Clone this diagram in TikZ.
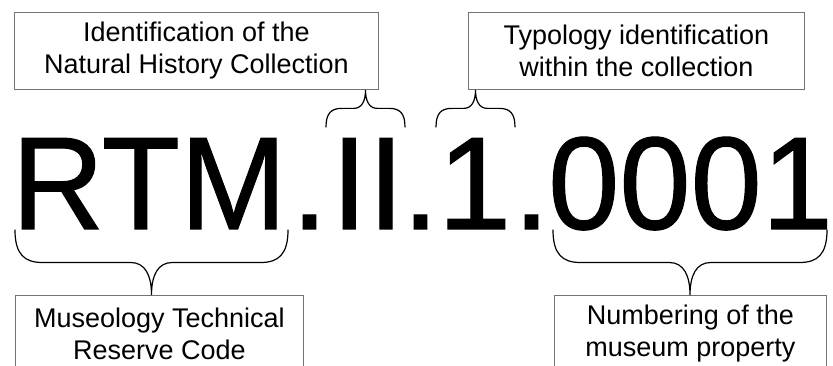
\documentclass[tikz,border=0pt]{standalone}
\usepackage{fontspec}
\setmainfont{Liberation Sans}
\newfontfamily\codefont[FakeBold=0.8]{Liberation Sans}
\usetikzlibrary{calc}

\tikzset{
  infobox/.style={draw=black!55, line width=0.8pt, align=center, inner sep=0pt,
    font=\fontsize{27}{32}\selectfont, anchor=north west, minimum height=77pt},
  codepart/.style={inner sep=0pt, anchor=base west, font=\codefont\fontsize{132}{132}\selectfont},
  brace line/.style={line width=1.2pt, line cap=round}
}

% curly brace between two ends, tip reaching the y of #3
\newcommand{\curlybrace}[3]{%
  \draw[brace line] let \p1=(#1), \p2=(#2), \p3=(#3),
      \n1={(\x1+\x2)/2}, \n2={(\y1+\y3)/2},
      \n3={0.42*abs(\y3-\y1)}, \n4={0.32*abs(\y3-\y1)} in
    (\p1) .. controls (\x1,{0.25*\y1+0.75*\n2*1pt}) and ({\x1+0.35*\n3*1pt},{\n2*1pt})
      .. ({\x1+\n3*1pt},{\n2*1pt})
    -- ({(\n1-\n4)*1pt},{\n2*1pt})
      .. controls ({(\n1-0.3*\n4)*1pt},{\n2*1pt}) and ({\n1*1pt},{0.6*\n2*1pt+0.4*\y3})
      .. ({\n1*1pt},\y3)
      .. controls ({\n1*1pt},{0.6*\n2*1pt+0.4*\y3}) and ({(\n1+0.3*\n4)*1pt},{\n2*1pt})
      .. ({(\n1+\n4)*1pt},{\n2*1pt})
    -- ({\x2-\n3*1pt},{\n2*1pt})
      .. controls ({\x2-0.35*\n3*1pt},{\n2*1pt}) and (\x2,{0.25*\y1+0.75*\n2*1pt})
      .. (\p2);
}

\begin{document}
\begin{tikzpicture}[x=1pt, y=-1pt]
  \clip (0,0) rectangle (833,366);

  % the code, piece by piece
  \node[codepart] (rtm) at (11.5,229) {\scalebox{0.97}[1]{RTM}};
  \node[codepart] (dotA) at (291,229) {.};
  \node[codepart] (ii) at (330.7,229) {II};
  \node[codepart] (dotB) at (402,229) {.};
  \node[codepart] (one) at (437.6,229) {1};
  \node[codepart] (dotC) at (513,229) {.};
  \node[codepart] (num) at (548,229) {\scalebox{0.97}[1]{0001}};

  % boxes
  \node[infobox, minimum width=364pt] (nhc) at (14,12)
    {Identification of the\\Natural History Collection};
  \node[infobox, minimum width=336pt] (typo) at (468,12)
    {Typology identification\\within the collection};
  \node[infobox, minimum width=288pt] (reserve) at (15,295)
    {Museology Technical\\Reserve Code};
  \node[infobox, minimum width=272pt] (number) at (554,295)
    {Numbering of the\\museum property};

  % brace ends
  \coordinate (rtmL) at (15,230);
  \coordinate (rtmR) at (288,230);
  \coordinate (iiL) at (326,127);
  \coordinate (iiR) at (405,127);
  \coordinate (oneL) at (436,127);
  \coordinate (oneR) at (515,127);
  \coordinate (numL) at (553,230);
  \coordinate (numR) at (827,230);

  \curlybrace{iiL}{iiR}{nhc.south}
  \curlybrace{oneL}{oneR}{typo.south}
  \curlybrace{rtmL}{rtmR}{reserve.north}
  \curlybrace{numL}{numR}{number.north}
\end{tikzpicture}
\end{document}
